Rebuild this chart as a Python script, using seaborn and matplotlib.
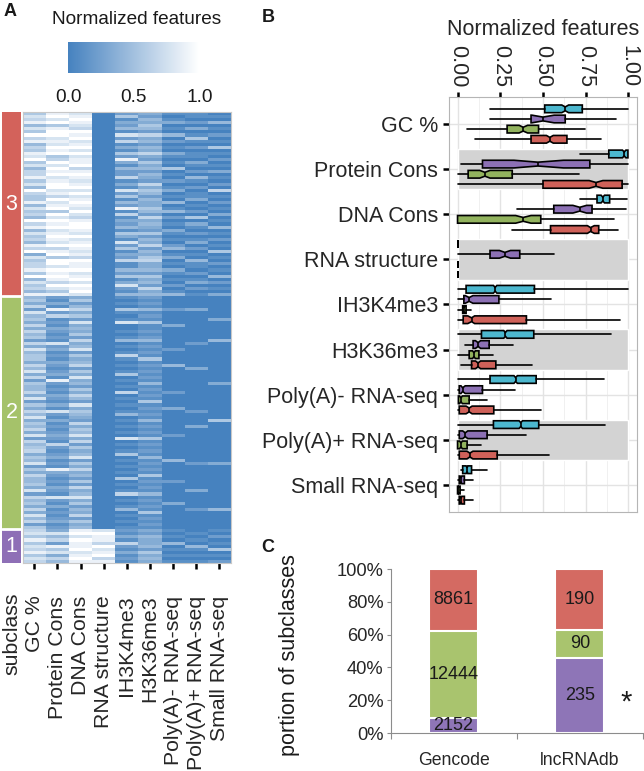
import numpy as np
import pandas as pd
import seaborn as sns
import matplotlib.pyplot as plt
from matplotlib.colors import LinearSegmentedColormap, ListedColormap

W, H = 644, 771

features = ["GC %", "Protein Cons", "DNA Cons", "RNA structure", "IH3K4me3",
            "H3K36me3", "Poly(A)- RNA-seq", "Poly(A)+ RNA-seq", "Small RNA-seq"]

# Panel A: heatmap rows, one digit string per feature (digit / 9 = normalized value)
sub3_rows = [
    "5768475968" "4658795746" "6857496558" "4756496847" "5648693756" "6859475648",
    "8979589978" "7989569798" "9789978697" "8959798978" "9879689599" "7989869758",
    "7898769897" "8979788968" "9878979789" "8797689987" "9789878698" "8978979897",
    "0000000000" "0000000000" "0000000000" "0000000000" "0000000000" "0000000000",
    "2513241726" "1315283142" "2613172514" "2816132415" "3172513261" "1425137214",
    "3243542634" "2436325342" "4326354243" "3542634325" "2436243563" "3425342634",
    "1013010402" "0103101050" "1020130104" "0140201031" "0102401301" "0310102014",
    "1102030151" "0201103102" "0410201130" "1020503102" "0130201041" "1020130201",
    "0104010201" "0501020103" "0102060102" "0103010401" "0201050102" "0104020103",
]
sub2_rows = [
    "4536274536" "3645263745" "5364736254" "4637253647" "3546372645" "6354725364" "4537264536" "374625",
    "2131826121" "3212172312" "1321231821" "2132131721" "3121232162" "1231218321" "2132172131" "212312",
    "3524635273" "4352634725" "3462537342" "5364273543" "2635473625" "3472536342" "5263473524" "362534",
    "0000000000" "0000000000" "0000000000" "0000000000" "0000000000" "0000000000" "0000000000" "000000",
    "1010510170" "0101401016" "1010150101" "0601010140" "1010107010" "1501010105" "0101601014" "010101",
    "2121412151" "1212412121" "5121212141" "2121512121" "4121215121" "2141212151" "2121412121" "512121",
    "0000200003" "0000000200" "0040000000" "0200003000" "0000020000" "0004000000" "2000000300" "000000",
    "0000300000" "0000020000" "0003000000" "0000000200" "0030000000" "0000200000" "0003000002" "000000",
    "0000000300" "0000400000" "0000000030" "0000000000" "5000000000" "0000300000" "0000000004" "000000",
]
sub1_rows = [
    "67585768576", "37462857364", "89798897898", "79886978968", "21316213121",
    "32433425343", "10104010101", "01010410101", "10201050102",
]

# Panel B: box stats per feature (whislo, q1, med, q3, whishi, cilo, cihi)
box_ref = [
    (0.19, 0.51, 0.63, 0.73, 1.00, 0.61, 0.65),
    (0.715, 0.885, 0.975, 0.997, 1.00, 0.965, 0.985),
    (0.715, 0.816, 0.85, 0.89, 0.99, 0.84, 0.86),
    (0.0, 0.0, 0.0, 0.0, 0.0, 0.0, 0.0),
    (0.0, 0.05, 0.22, 0.45, 1.00, 0.21, 0.23),
    (0.0, 0.14, 0.28, 0.446, 0.895, 0.27, 0.29),
    (0.0, 0.19, 0.34, 0.46, 0.856, 0.33, 0.35),
    (0.0, 0.21, 0.37, 0.475, 0.86, 0.36, 0.38),
    (0.02, 0.03, 0.056, 0.082, 0.17, 0.05, 0.06),
]
box_sub1 = [
    (0.19, 0.43, 0.50, 0.63, 0.93, 0.435, 0.565),
    (0.02, 0.146, 0.47, 0.774, 1.00, 0.33, 0.62),
    (0.35, 0.563, 0.715, 0.787, 0.988, 0.675, 0.755),
    (0.0, 0.19, 0.277, 0.364, 0.565, 0.245, 0.31),
    (0.0, 0.037, 0.068, 0.242, 0.546, 0.045, 0.09),
    (0.043, 0.091, 0.12, 0.185, 0.325, 0.105, 0.135),
    (0.0, 0.01, 0.03, 0.146, 0.335, 0.02, 0.045),
    (0.0, 0.01, 0.045, 0.173, 0.403, 0.03, 0.06),
    (0.0, 0.01, 0.02, 0.04, 0.088, 0.015, 0.025),
]
box_sub2 = [
    (0.056, 0.29, 0.384, 0.474, 0.744, 0.36, 0.41),
    (0.0, 0.062, 0.16, 0.32, 0.71, 0.13, 0.19),
    (0.0, 0.0, 0.384, 0.487, 0.914, 0.34, 0.43),
    (0.0, 0.0, 0.0, 0.0, 0.0, 0.0, 0.0),
    (0.0, 0.03, 0.038, 0.05, 0.08, 0.034, 0.042),
    (0.0, 0.068, 0.096, 0.125, 0.208, 0.088, 0.104),
    (0.0, 0.005, 0.02, 0.068, 0.17, 0.012, 0.028),
    (0.0, 0.0, 0.02, 0.056, 0.136, 0.012, 0.028),
    (0.0, 0.0, 0.005, 0.015, 0.035, 0.002, 0.008),
]
box_sub3 = [
    (0.10, 0.43, 0.54, 0.64, 0.84, 0.52, 0.56),
    (0.0, 0.50, 0.81, 0.963, 1.00, 0.77, 0.85),
    (0.32, 0.544, 0.778, 0.826, 0.94, 0.76, 0.80),
    (0.0, 0.0, 0.0, 0.0, 0.0, 0.0, 0.0),
    (0.0, 0.033, 0.082, 0.403, 0.949, 0.06, 0.10),
    (0.02, 0.082, 0.12, 0.224, 0.433, 0.105, 0.135),
    (0.0, 0.01, 0.068, 0.212, 0.491, 0.05, 0.085),
    (0.0, 0.01, 0.072, 0.232, 0.536, 0.055, 0.09),
    (0.0, 0.01, 0.02, 0.04, 0.088, 0.015, 0.025),
]

# Panel C
sets = ["Gencode", "lncRNAdb"]
n_sub1 = [2152, 235]
n_sub2 = [12444, 90]
n_sub3 = [8861, 190]

sns.set_style("white")
plt.rcParams["font.family"] = ["Liberation Sans", "DejaVu Sans"]
plt.rcParams["text.color"] = "#1a1a1a"

fig = plt.figure(figsize=(W / 100, H / 100), dpi=100)


def px_axes(x0, y0, x1, y1):
    return fig.add_axes([x0 / W, 1 - y1 / H, (x1 - x0) / W, (y1 - y0) / H])


def block(rows):
    return np.array([[int(c) for c in s] for s in rows]).T / 9.0


# ---------------- Panel A ----------------
heat = np.vstack([block(sub3_rows), block(sub2_rows), block(sub1_rows)])
heat_df = pd.DataFrame(heat, columns=features)
n3, n2, n1 = len(sub3_rows[0]), len(sub2_rows[0]), len(sub1_rows[0])
sub_ids = pd.DataFrame({"subclass": [3] * n3 + [2] * n2 + [1] * n1})

ax_sub = px_axes(2, 112, 21, 563)
ax_h = px_axes(22.7, 112, 231, 563)
ax_cb = px_axes(68.3, 42.3, 199.3, 73.3)

cmap = LinearSegmentedColormap.from_list("nf", ["#4682BF", "#FFFFFF"])
sns.heatmap(heat_df, ax=ax_h, cmap=cmap, vmin=0, vmax=1, cbar_ax=ax_cb,
            cbar_kws=dict(orientation="horizontal"), xticklabels=features,
            yticklabels=False)
ax_h.tick_params(axis="x", bottom=True, length=4.5, width=1.8, color="black",
                 labelsize=15.3, pad=19, labelrotation=90)
for s in ax_h.spines.values():
    s.set_visible(True)
    s.set_color("#C8C8C8")
    s.set_linewidth(0.8)

sub_cols = ["#8E6FB6", "#A5C26A", "#D3625B"]
sns.heatmap(sub_ids, ax=ax_sub, cmap=ListedColormap(sub_cols), vmin=0.5, vmax=3.5,
            cbar=False, xticklabels=["subclass"], yticklabels=False)
ax_sub.tick_params(axis="x", length=0, labelsize=15.3, pad=21.5, labelrotation=90)
ax_sub.axhline(n3, color="white", lw=2)
ax_sub.axhline(n3 + n2, color="white", lw=2)
for lab, mid in [("3", n3 / 2), ("2", n3 + n2 / 2), ("1", n3 + n2 + n1 / 2)]:
    ax_sub.text(0.5, mid, lab, color="white", fontsize=15.5, ha="center", va="center")

cb = ax_h.collections[0].colorbar
cb.set_ticks([0, 0.25, 0.5, 0.75, 1])
cb.set_ticklabels(["0.0", "", "0.5", "", "1.0"])
cb.outline.set_visible(False)
ax_cb.tick_params(direction="in", length=5, width=1, color="white", top=True,
                  bottom=True, labelcolor="#1a1a1a", labelsize=13.7, pad=11)
fig.text(136.7 / W, 1 - 20 / H, "Normalized features", fontsize=13.7,
         ha="center", va="center")

# ---------------- Panel B ----------------
ax_b = px_axes(449, 97, 637, 512)
ax_b.set_xlim(-0.05, 1.05)
ax_b.set_ylim(len(features) - 0.4, -0.6)
ax_b.set_xticks([0, 0.25, 0.5, 0.75, 1.0])
ax_b.set_xticklabels(["0.00", "0.25", "0.50", "0.75", "1.00"])
ax_b.set_xticks([0.125, 0.375, 0.625, 0.875], minor=True)
ax_b.set_yticks(range(len(features)))
ax_b.set_yticklabels(features)
ax_b.grid(which="major", color="#E3E3E3", lw=1.0, zorder=0)
ax_b.grid(which="minor", axis="x", color="#EEEEEE", lw=0.6, zorder=0)
ax_b.set_axisbelow(True)

for i in range(1, len(features), 2):
    ax_b.barh(i, 1.0, left=0, height=0.9, color="#D3D3D3", zorder=1)

box_sets = [box_ref, box_sub1, box_sub2, box_sub3]
box_cols = ["#4CB7CE", "#8C70B4", "#92B35E", "#CF6159"]
offsets = [-0.3375, -0.1125, 0.1125, 0.3375]
for rows, col, off in zip(box_sets, box_cols, offsets):
    stats = [dict(whislo=r[0], q1=r[1], med=r[2], q3=r[3], whishi=r[4],
                  cilo=r[5], cihi=r[6], fliers=[]) for r in rows]
    ax_b.bxp(stats, positions=np.arange(len(rows)) + off, widths=0.17,
             orientation="horizontal", shownotches=True, patch_artist=True,
             showcaps=False, showfliers=False, manage_ticks=False, zorder=3,
             boxprops=dict(facecolor=col, edgecolor="black", linewidth=1.2),
             medianprops=dict(color="black", linewidth=1.2),
             whiskerprops=dict(color="black", linewidth=1.2))

ax_b.xaxis.tick_top()
ax_b.xaxis.set_label_position("top")
ax_b.tick_params(axis="x", which="major", top=True, bottom=False, labeltop=True,
                 labelbottom=False, length=3.6, width=1.8, pad=3.6,
                 labelsize=15.5, labelrotation=-90, color="black")
ax_b.tick_params(axis="y", left=True, length=4.3, width=1.8, pad=3.6,
                 labelsize=15.5, color="black")
ax_b.tick_params(which="minor", length=0)
ax_b.set_xlabel("Normalized features", fontsize=15.5, labelpad=7)
for s in ax_b.spines.values():
    s.set_color("#B5B5B5")
    s.set_linewidth(0.8)

# ---------------- Panel C ----------------
ax_c = px_axes(390.5, 569, 643, 733)
tot = np.array(n_sub1) + np.array(n_sub2) + np.array(n_sub3)
c1 = np.array(n_sub1) / tot
c2 = (np.array(n_sub1) + np.array(n_sub2)) / tot
c3 = (np.array(n_sub1) + np.array(n_sub2) + np.array(n_sub3)) / tot
bar_cols = ["#8E75B7", "#A9C46E", "#D46A62"]
for vals, col in [(c3, bar_cols[2]), (c2, bar_cols[1]), (c1, bar_cols[0])]:
    sns.barplot(x=sets, y=vals, color=col, saturation=1, width=0.39, ax=ax_c,
                edgecolor="white", linewidth=1.5)

for i in range(len(sets)):
    ax_c.text(i, c1[i] / 2, str(n_sub1[i]), ha="center", va="center", fontsize=13)
    ax_c.text(i, (c1[i] + c2[i]) / 2, str(n_sub2[i]), ha="center", va="center", fontsize=13)
    ax_c.text(i, (c2[i] + c3[i]) / 2, str(n_sub3[i]), ha="center", va="center", fontsize=13)
ax_c.text(1.37, c1[1] / 2 - 0.04, "*", ha="center", va="center", fontsize=21)

ax_c.set_ylim(0, 1)
ax_c.set_xlim(-0.5, 1.5)
ax_c.set_yticks([0, 0.2, 0.4, 0.6, 0.8, 1.0])
ax_c.set_yticklabels(["0%", "20%", "40%", "60%", "80%", "100%"])
ax_c.set_xticks([0, 1])
ax_c.set_xticklabels(sets)
ax_c.set_xticks([-0.5, 0.5, 1.5], minor=True)
ax_c.tick_params(axis="y", left=True, length=3, width=0.8, color="#8C8C8C",
                 labelsize=13.2, pad=2)
ax_c.tick_params(axis="x", which="major", bottom=True, length=0, labelsize=12.7, pad=14)
ax_c.tick_params(axis="x", which="minor", bottom=True, length=4.5, width=0.8, color="#8C8C8C")
ax_c.set_xlabel("")
ax_c.set_ylabel("")
ax_c.spines["top"].set_visible(False)
ax_c.spines["right"].set_visible(False)
for side in ["left", "bottom"]:
    ax_c.spines[side].set_color("#8C8C8C")
    ax_c.spines[side].set_linewidth(0.8)
fig.text(290 / W, 1 - 655 / H, "portion of subclasses", rotation=90, fontsize=15.5,
         ha="center", va="center")

# panel letters
for lab, x, y in [("A", 10, 11), ("B", 268, 18), ("C", 268, 548)]:
    fig.text(x / W, 1 - y / H, lab, fontsize=13, weight="bold", ha="center", va="center")

fig.savefig("out.png", dpi=100, facecolor="white")
